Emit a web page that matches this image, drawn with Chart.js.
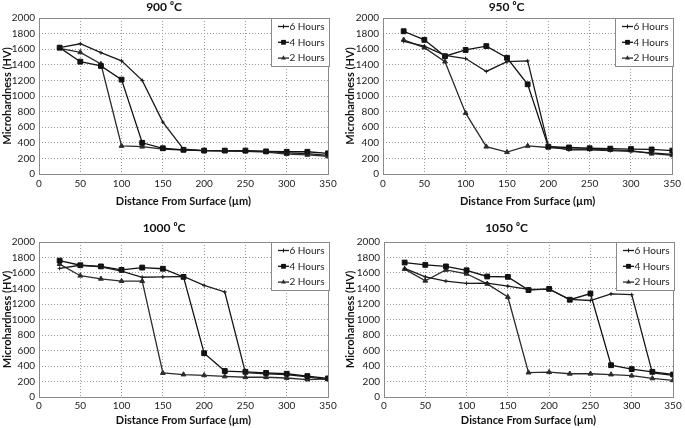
<!DOCTYPE html>
<html>
<head>
<meta charset="utf-8">
<script src="https://cdn.jsdelivr.net/npm/chart.js@4"></script>
<style>
  body { margin: 0; background: #fff; width: 685px; height: 428px; overflow: hidden; position: relative; }
  canvas { position: absolute; }
</style>
</head>
<body>
<canvas id="c900" width="342" height="214" style="left:0;top:0"></canvas>
<canvas id="c950" width="345" height="214" style="left:340px;top:0"></canvas>
<canvas id="c1000" width="342" height="214" style="left:0;top:214px"></canvas>
<canvas id="c1050" width="345" height="214" style="left:340px;top:214px"></canvas>
<script>
// === DATA (distance in µm, microhardness in HV) ===
const distance = [25, 50, 75, 100, 125, 150, 175, 200, 225, 250, 275, 300, 325, 350];
const seriesLabels = ['6 Hours', '4 Hours', '2 Hours'];
const xTicks = [0, 50, 100, 150, 200, 250, 300, 350];
const yTicks = [0, 200, 400, 600, 800, 1000, 1200, 1400, 1600, 1800, 2000];

const h6_900 = [1620, 1670, 1555, 1450, 1200, 665, 320, 300, 300, 295, 290, 270, 260, 240];
const h4_900 = [1620, 1440, 1385, 1210, 400, 330, 310, 300, 300, 300, 290, 285, 285, 265];
const h2_900 = [1610, 1560, 1410, 360, 350, 320, 305, 300, 295, 290, 280, 255, 245, 225];

const h6_950 = [1700, 1640, 1520, 1480, 1315, 1440, 1450, 360, 310, 310, 300, 290, 270, 250];
const h4_950 = [1830, 1720, 1510, 1590, 1640, 1490, 1150, 350, 340, 330, 325, 320, 315, 300];
const h2_950 = [1720, 1620, 1440, 780, 350, 280, 360, 340, 320, 320, 310, 300, 260, 240];

const h6_1000 = [1660, 1700, 1680, 1625, 1545, 1550, 1555, 1440, 1355, 315, 300, 290, 260, 225];
const h4_1000 = [1760, 1700, 1685, 1640, 1670, 1655, 1550, 565, 335, 325, 310, 300, 270, 240];
const h2_1000 = [1715, 1565, 1525, 1495, 1495, 310, 290, 280, 265, 255, 255, 245, 225, 235];

const h6_1050 = [1660, 1550, 1495, 1465, 1470, 1430, 1390, 1390, 1260, 1245, 1330, 1320, 310, 280];
const h4_1050 = [1735, 1705, 1685, 1635, 1555, 1550, 1380, 1395, 1255, 1335, 410, 360, 325, 290];
const h2_1050 = [1650, 1500, 1640, 1590, 1460, 1290, 315, 320, 300, 300, 290, 275, 240, 215];

// === STYLE ===
Chart.defaults.font.family = 'Lato, "Open Sans", sans-serif';
Chart.defaults.color = '#222';

const seriesStyle = [
  { pointStyle: 'cross', radius: 2, color: '#1a1a1a' },
  { pointStyle: 'rect', radius: 3.4, color: '#111' },
  { pointStyle: 'triangle', radius: 2.8, color: '#2c2c2c' }
];

function drawMarker(ctx, style, x, y) {
  const r = style.radius;
  ctx.beginPath();
  if (style.pointStyle === 'cross') {
    ctx.moveTo(x - r, y); ctx.lineTo(x + r, y);
    ctx.moveTo(x, y - r); ctx.lineTo(x, y + r);
    ctx.stroke();
  } else if (style.pointStyle === 'rect') {
    const s = r * Math.SQRT1_2;
    ctx.rect(x - s, y - s, 2 * s, 2 * s);
    ctx.fill();
  } else {
    ctx.moveTo(x, y - r);
    ctx.lineTo(x + r * 0.866, y + r / 2);
    ctx.lineTo(x - r * 0.866, y + r / 2);
    ctx.closePath();
    ctx.fill();
  }
}

// frame round the plot + boxed legend in the top right corner
const framePlugin = {
  id: 'frame',
  beforeDatasetsDraw(chart) {
    const { ctx, chartArea: a } = chart;
    ctx.save();
    ctx.strokeStyle = '#8a8a8a';
    ctx.lineWidth = 1;
    ctx.strokeRect(Math.round(a.left) + 0.5, Math.round(a.top) + 0.5, Math.round(a.width), Math.round(a.height));
    ctx.restore();
  },
  afterDraw(chart) {
    const { ctx, chartArea: a } = chart;
    const x0 = Math.round(a.right) - 57, y0 = Math.round(a.top);
    ctx.save();
    ctx.fillStyle = '#fff';
    ctx.fillRect(x0, y0, 58, 48);
    ctx.strokeStyle = '#8a8a8a';
    ctx.lineWidth = 1;
    ctx.strokeRect(x0 + 0.5, y0 + 0.5, 58, 48);
    chart.data.datasets.forEach((ds, i) => {
      const st = seriesStyle[i];
      const y = y0 + 8.5 + i * 15.8;
      ctx.strokeStyle = st.color;
      ctx.fillStyle = st.color;
      ctx.lineWidth = 1.3;
      ctx.beginPath();
      ctx.moveTo(x0 + 7, y); ctx.lineTo(x0 + 18, y);
      ctx.stroke();
      ctx.lineWidth = 1;
      drawMarker(ctx, st, x0 + 12.5, y);
      ctx.fillStyle = '#222';
      ctx.font = '10px Lato, "Open Sans", sans-serif';
      ctx.textBaseline = 'middle';
      ctx.fillText(ds.label, x0 + 18.5, y);
    });
    ctx.restore();
  }
};

function makeChart(p) {
  const datasets = [p.h6, p.h4, p.h2].map((vals, i) => ({
    label: seriesLabels[i],
    data: distance.map((x, k) => ({ x, y: vals[k] })),
    borderColor: seriesStyle[i].color,
    backgroundColor: seriesStyle[i].color,
    pointStyle: seriesStyle[i].pointStyle,
    pointRadius: seriesStyle[i].radius,
    pointBorderWidth: 1,
    borderWidth: 1.3,
    tension: 0
  }));

  return new Chart(document.getElementById(p.id), {
    type: 'line',
    data: { datasets },
    plugins: [framePlugin],
    options: {
      responsive: false,
      animation: false,
      layout: { padding: { left: 0, right: p.pr, top: 0, bottom: 0 } },
      plugins: {
        legend: { display: false },
        tooltip: { enabled: false },
        title: {
          display: true,
          text: p.title,
          color: '#111',
          font: { size: 12, weight: 'bold' },
          padding: { top: p.titleTop, bottom: p.titleBottom }
        }
      },
      scales: {
        x: {
          type: 'linear',
          min: xTicks[0],
          max: xTicks[xTicks.length - 1],
          afterBuildTicks: s => { s.ticks = xTicks.map(v => ({ value: v })); },
          afterFit: s => { s.height = p.xH; },
          ticks: { font: { size: 10 }, padding: p.xTickPad, maxRotation: 0, callback: v => String(v) },
          grid: { color: '#9a9a9a', drawTicks: false },
          border: { display: false, dash: [1, 2] },
          title: {
            display: true,
            text: 'Distance From Surface (µm)',
            color: '#111',
            font: { size: 11, weight: 'bold' },
            padding: { top: 0, bottom: p.xTitleBottom }
          }
        },
        y: {
          min: yTicks[0],
          max: yTicks[yTicks.length - 1],
          afterBuildTicks: s => { s.ticks = yTicks.map(v => ({ value: v })); },
          afterFit: s => { s.width = p.yW; },
          ticks: { font: { size: 10 }, padding: 4, callback: v => String(v) },
          grid: { color: '#9a9a9a', drawTicks: false },
          border: { display: false, dash: [1, 2] },
          title: {
            display: true,
            text: 'Microhardness (HV)',
            color: '#111',
            font: { size: 11, weight: 'bold' },
            padding: { top: p.yTitleTop, bottom: 0 }
          }
        }
      }
    }
  });
}

// === PANELS ===
makeChart({ id: 'c900', title: '900 \u2070C', h6: h6_900, h4: h4_900, h2: h2_900,
  pr: 14, yW: 39, yTitleTop: 0.5, titleTop: 0, titleBottom: 3.6, xH: 40, xTickPad: 4, xTitleBottom: 6.4 });
makeChart({ id: 'c950', title: '950 \u2070C', h6: h6_950, h4: h4_950, h2: h2_950,
  pr: 12, yW: 43, yTitleTop: 3.5, titleTop: 0, titleBottom: 3.6, xH: 40, xTickPad: 4, xTitleBottom: 6.4 });
makeChart({ id: 'c1000', title: '1000 \u2070C', h6: h6_1000, h4: h4_1000, h2: h2_1000,
  pr: 14, yW: 39, yTitleTop: 0.5, titleTop: 6.8, titleBottom: 6.8, xH: 31, xTickPad: 3, xTitleBottom: 0.5 });
makeChart({ id: 'c1050', title: '1050 \u2070C', h6: h6_1050, h4: h4_1050, h2: h2_1050,
  pr: 12, yW: 44, yTitleTop: 3.5, titleTop: 6.8, titleBottom: 6.8, xH: 31, xTickPad: 3, xTitleBottom: 0.5 });
</script>
</body>
</html>
